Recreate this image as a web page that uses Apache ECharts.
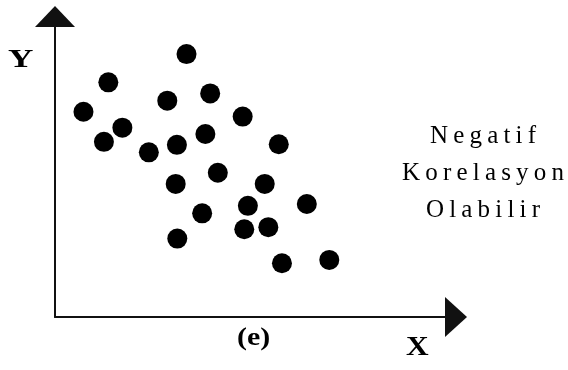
<!DOCTYPE html>
<html>
<head>
<meta charset="utf-8">
<script src="https://cdn.jsdelivr.net/npm/echarts@6/dist/echarts.min.js"></script>
<style>
  html, body { margin: 0; padding: 0; background: #fff; }
  #chart { width: 568px; height: 370px; }
</style>
</head>
<body>
<div id="chart"></div>
<script>
// Scatter points: X values and matching Y values (arbitrary units, 0-10)
const xValues = [3.28, 1.33, 0.71, 2.80, 3.87, 4.68, 1.68, 1.22, 2.34, 3.04, 3.75, 5.58,
                 4.06, 3.01, 5.23, 6.28, 4.81, 3.67, 4.72, 5.32, 3.05, 5.66, 6.84];
const yValues = [8.75, 7.81, 6.83, 7.20, 7.44, 6.67, 6.30, 5.83, 5.48, 5.73, 6.09, 5.75,
                 4.80, 4.43, 4.43, 3.76, 3.70, 3.45, 2.92, 2.99, 2.61, 1.79, 1.90];

const xAxisTitle = 'X';
const yAxisTitle = 'Y';
const caption = '(e)';
const noteLines = ['Negatif', 'Korelasyon', 'Olabilir'];

const points = xValues.map((x, i) => [x, yValues[i]]);

// Each letter becomes a padded rich-text token to spread the note out.
const spaced = s => s.split('').map(c => '{c|' + c + '}').join('');

const chart = echarts.init(document.getElementById('chart'), null, { renderer: 'canvas' });

const axisCommon = {
  type: 'value',
  min: 0,
  max: 10,
  axisTick: { show: false },
  axisLabel: { show: false },
  splitLine: { show: false }
};

chart.setOption({
  backgroundColor: '#ffffff',
  animation: false,
  grid: { left: 55, right: 112, top: 16.5, bottom: 53 },
  xAxis: Object.assign({}, axisCommon, {
    axisLine: {
      show: true, onZero: false,
      symbol: ['none', 'triangle'], symbolSize: [40, 22],
      lineStyle: { color: '#111', width: 2 }
    }
  }),
  yAxis: Object.assign({}, axisCommon, {
    axisLine: {
      show: true, onZero: false,
      symbol: ['none', 'triangle'], symbolSize: [40, 21],
      lineStyle: { color: '#111', width: 2 }
    }
  }),
  series: [{
    type: 'scatter',
    data: points,
    symbol: 'circle',
    symbolSize: 20,
    itemStyle: { color: '#000', opacity: 1 }
  }],
  graphic: [
    {
      type: 'text', x: 8, y: 47, scaleX: 1.35,
      style: { text: yAxisTitle, font: 'bold 26px "Liberation Serif"', fill: '#000' }
    },
    {
      type: 'text', x: 406, y: 334, scaleX: 1.12,
      style: { text: xAxisTitle, font: 'bold 28px "Liberation Serif"', fill: '#000' }
    },
    {
      type: 'text', x: 237, y: 325, scaleX: 1.15,
      style: { text: caption, font: 'bold 26px "Liberation Serif"', fill: '#000' }
    },
    {
      type: 'text', x: 483, y: 118,
      style: {
        text: noteLines.map(spaced).join('\n'),
        align: 'center',
        verticalAlign: 'top',
        fill: '#000',
        rich: {
          c: {
            font: '25px "Liberation Serif", serif',
            lineHeight: 37,
            padding: [0, 2.6],
            fill: '#000'
          }
        }
      }
    }
  ]
});
</script>
</body>
</html>
